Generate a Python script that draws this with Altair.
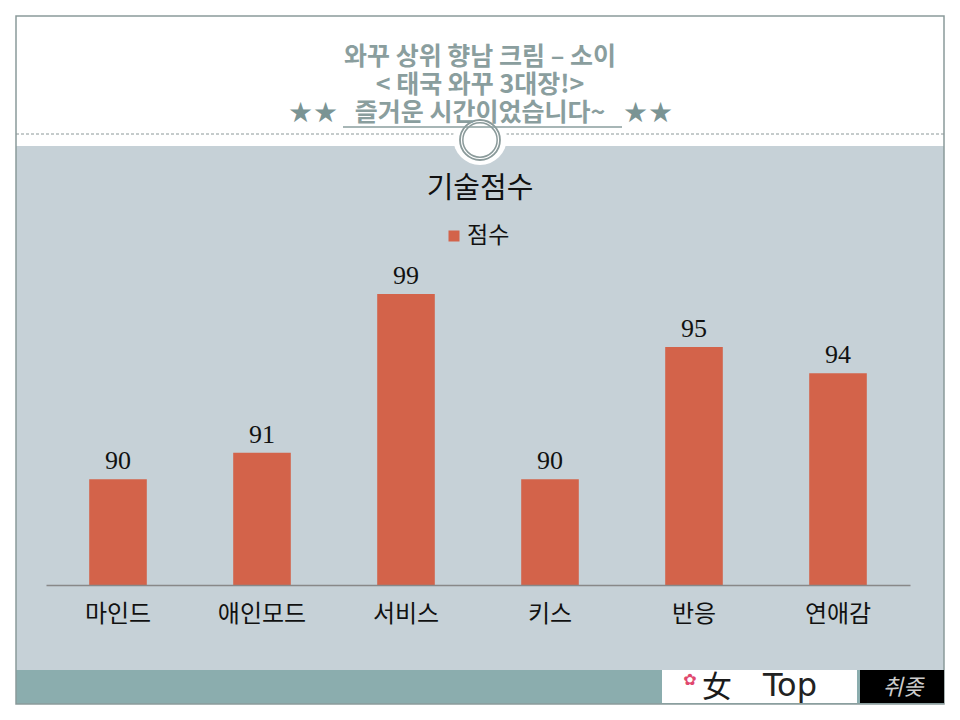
import altair as alt
import pandas as pd

categories = ["마인드", "애인모드", "서비스", "키스", "반응", "연애감"]
scores = [90, 91, 99, 90, 95, 94]
series_name = "점수"
chart_title = "기술점수"
title_lines = ["와꾸 상위 향남 크림 – 소이", "< 태국 와꾸 3대장!>", "즐거운 시간이었습니다~"]
y_min, y_max = 86, 97

df = pd.DataFrame({"cat": categories, "score": scores})
one = pd.DataFrame({"a": [1]})

# plot origin is at page (46, 294)
OX, OY = 46, 294
def X(v): return v - OX
def Y(v): return v - OY

BAR = "#D3634A"
HEAD = "#8A9E9E"
KR = "Noto Sans CJK KR"

def rect(x1, y1, x2, y2, **kw):
    return alt.Chart(one).mark_rect(**kw).encode(
        x=alt.value(X(x1)), x2=alt.value(X(x2)), y=alt.value(Y(y1)), y2=alt.value(Y(y2)))

def text(t, x, y, **kw):
    return alt.Chart(one).mark_text(text=t, **kw).encode(x=alt.value(X(x)), y=alt.value(Y(y)))

body = rect(16, 146, 944, 670, color="#C6D1D7")
band = rect(16, 670, 944, 704, color="#8BADAE")
border = rect(16, 16, 944, 704, fill=None, filled=False, stroke="#8A9A9A", strokeWidth=1.5)
dash = alt.Chart(one).mark_rule(color="#8C9898", strokeDash=[3, 2], strokeWidth=1).encode(
    x=alt.value(X(16)), x2=alt.value(X(944)), y=alt.value(Y(134)))
wcircle = alt.Chart(one).mark_point(shape="circle", filled=True, color="white", opacity=1, size=2900).encode(
    x=alt.value(X(480)), y=alt.value(Y(138)))
ring1 = alt.Chart(one).mark_point(shape="circle", filled=False, color="#8A9A9A", strokeWidth=1.8, opacity=1, size=1600).encode(
    x=alt.value(X(480)), y=alt.value(Y(140)))
ring2 = alt.Chart(one).mark_point(shape="circle", filled=False, color="#8A9A9A", strokeWidth=1.5, opacity=1, size=1180).encode(
    x=alt.value(X(480)), y=alt.value(Y(140)))

titles = alt.Chart(one).mark_text(text=title_lines, font=KR, fontSize=25, fontWeight="bold", color=HEAD,
                                  baseline="middle", lineHeight=28).encode(x=alt.value(X(480)), y=alt.value(Y(57)))
s1 = text("★★", 313, 114, font="DejaVu Sans", fontSize=28, color="#7A9494", baseline="middle")
s2 = text("★★", 648, 114, font="DejaVu Sans", fontSize=28, color="#7A9494", baseline="middle")
uline = alt.Chart(one).mark_rule(color=HEAD, strokeWidth=1.5).encode(
    x=alt.value(X(343)), x2=alt.value(X(622)), y=alt.value(Y(127)))

ctitle = text(chart_title, 480, 189, font=KR, fontSize=29, color="#111111", baseline="middle")
leg_sq = alt.Chart(one).mark_point(shape="square", filled=True, color=BAR, opacity=1, size=121).encode(
    x=alt.value(X(454)), y=alt.value(Y(236)))
leg_tx = text(series_name, 467, 236, font=KR, fontSize=23, color="#111111", align="left", baseline="middle")

xenc = alt.X("cat:N", sort=categories, title=None,
             scale=alt.Scale(paddingInner=0.6, paddingOuter=0.3),
             axis=alt.Axis(labelAngle=0, labelFont=KR, labelFontSize=24, labelColor="#111111",
                           labelPadding=17, ticks=False, domainColor="#888888", domainWidth=1.5,
                           grid=False, zindex=1))
yenc = alt.Y("score:Q", scale=alt.Scale(domain=[y_min, y_max], nice=False, zero=False), axis=None)

bars = alt.Chart(df).mark_bar(color=BAR, clip=True).encode(x=xenc, y=yenc)
labels = alt.Chart(df).transform_calculate(ly=f"min(datum.score, {y_max})").mark_text(
    font="Liberation Serif", fontSize=26, color="#111111", baseline="bottom", dy=-5).encode(
    x=alt.X("cat:N", sort=categories), y=alt.Y("ly:Q", scale=alt.Scale(domain=[y_min, y_max], nice=False, zero=False)),
    text="score:Q")

logo_w = rect(662, 670, 857, 703, color="white")
logo_b = rect(860, 670, 944, 703, color="black")
logo_fig = text("✿", 690, 680, font="DejaVu Sans", fontSize=16, color="#E0486E", baseline="middle")
logo_t1 = text("女", 717, 688, font="Noto Sans CJK SC", fontSize=30, color="#1a1a1a", baseline="middle")
logo_t2 = text("Top", 790, 686, font="DejaVu Sans", fontSize=32, color="#222222", baseline="middle")
logo_t3 = text("취좆", 903, 688, font=KR, fontSize=22, color="#CCCCCC", baseline="middle", fontStyle="italic")

chart = alt.layer(
    body, band, border, dash, wcircle, ring1, ring2,
    titles, s1, s2, uline, ctitle, leg_sq, leg_tx,
    bars, labels, logo_w, logo_b, logo_fig, logo_t1, logo_t2, logo_t3,
).properties(
    width=864, height=291,
    padding={"left": 38, "top": 286, "right": 38, "bottom": 123},
    autosize=alt.AutoSizeParams(type="none"),
    background="white",
).configure_view(strokeWidth=0)

chart.save("out.html", embed_options={"renderer": "svg", "actions": False})
